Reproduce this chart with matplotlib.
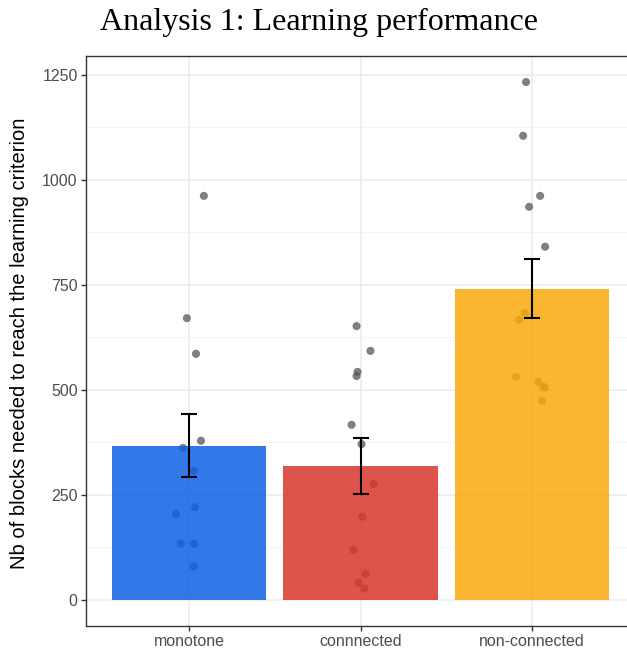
import numpy as np
import matplotlib.pyplot as plt
from matplotlib.ticker import MultipleLocator

# data
conditions = ['monotone', 'connnected', 'non-connected']
bar_colors = ['#0e60e4', '#d8362a', '#faa80d']

monotone = [962, 671, 586, 379, 362, 307, 221, 205, 134, 134, 80]
monotone_jit = [0.087, -0.012, 0.041, 0.07, -0.035, 0.029, 0.035, -0.076, -0.047, 0.029, 0.029]
connected = [652, 593, 543, 533, 417, 371, 276, 198, 119, 62, 41, 27]
connected_jit = [-0.023, 0.058, -0.017, -0.023, -0.052, 0.006, 0.076, 0.012, -0.041, 0.029, -0.012, 0.023]
nonconnected = [1233, 1105, 962, 936, 841, 683, 667, 531, 519, 507, 506, 474]
nonconnected_jit = [-0.035, -0.052, 0.047, -0.017, 0.076, -0.041, -0.076, -0.093, 0.035, 0.064, 0.076, 0.058]

means = [367, 319, 740]
err_lo = [293, 252, 671]
err_hi = [443, 386, 812]

groups = [monotone, connected, nonconnected]
jits = [monotone_jit, connected_jit, nonconnected_jit]

fig = plt.figure(figsize=(6.27, 6.49), dpi=100)
W, H = 627, 649
ax = fig.add_axes([86 / W, (H - 626) / H, 549 / W, 570 / H])

x = np.arange(1, 4)

# dots (under the bars)
for i, (vals, jit) in enumerate(zip(groups, jits)):
    ax.scatter(x[i] + np.array(jit), vals, s=34, color='#555555', alpha=0.75,
               edgecolors='none', zorder=2)

ax.bar(x, means, width=0.9, color=bar_colors, alpha=0.85, zorder=3)

yerr = [np.array(means) - np.array(err_lo), np.array(err_hi) - np.array(means)]
ax.errorbar(x, means, yerr=yerr, fmt='none', ecolor='black', elinewidth=1.5,
            capsize=5.8, capthick=1.5, zorder=4)

ax.set_xlim(0.4, 3.6)
ax.set_ylim(-62, 1295)
ax.set_xticks(x)
ax.set_xticklabels(conditions)
ax.yaxis.set_major_locator(MultipleLocator(250))
ax.yaxis.set_minor_locator(MultipleLocator(125))

ax.grid(True, which='major', color='#ebebeb', lw=1.1, zorder=0)
ax.grid(True, which='minor', axis='y', color='#f2f2f2', lw=0.6, zorder=0)
ax.set_axisbelow(True)

for s in ax.spines.values():
    s.set_color('#333333')
    s.set_linewidth(1.0)

ax.tick_params(axis='both', which='major', length=3.5, width=1, color='#333333',
               labelcolor='#4d4d4d', labelsize=11.5, pad=2.5)
ax.tick_params(axis='both', which='minor', length=0)
for lab in ax.get_xticklabels() + ax.get_yticklabels():
    lab.set_fontfamily('Liberation Sans')

ax.set_ylabel('Nb of blocks needed to reach the learning criterion',
              fontsize=14.5, family='Liberation Sans')
ax.yaxis.set_label_coords(-57 / 549, (626 - 343) / 570)

fig.text(100 / W, 1 - 22 / H, 'Analysis 1: Learning performance', fontsize=23,
         family='Liberation Serif', va='center', ha='left')

fig.savefig('out.png', dpi=100)
